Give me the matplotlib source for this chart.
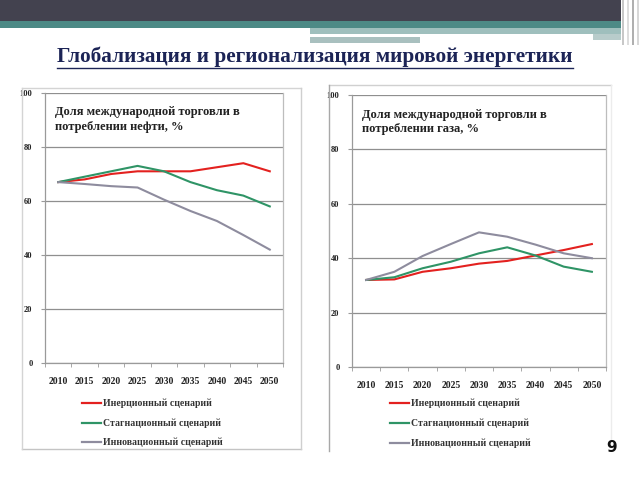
import numpy as np
import matplotlib
matplotlib.use('Agg')
import matplotlib.pyplot as plt
from matplotlib.patches import Rectangle
from matplotlib.lines import Line2D

# Data
years = ['2010', '2015', '2020', '2025', '2030', '2035', '2040', '2045', '2050']
oil_inertial = [67, 68, 70, 71, 71, 71, 72.5, 74, 71]
oil_stagnation = [67, 69, 71, 73, 71, 67, 64, 62, 58]
oil_innovation = [67, 66.3, 65.5, 65, 60.5, 56.3, 52.6, 47.4, 42]
gas_inertial = [32, 32.2, 35, 36.3, 38, 39, 41, 43, 45.2]
gas_stagnation = [32, 33, 36.3, 38.7, 41.8, 44, 41, 36.9, 35]
gas_innovation = [32, 35, 40.8, 45.2, 49.5, 47.9, 45, 41.8, 40]
legend_labels = ['Инерционный сценарий', 'Стагнационный сценарий', 'Инновационный сценарий']
colors = ['#e3211f', '#2f9466', '#8e8c9e']

W, H = 640, 480
fig = plt.figure(figsize=(6.4, 4.8), dpi=100)
serif = 'Liberation Serif'


def box(x0, y0, x1, y1):
    # pixel box (top-left origin) -> figure fractions
    return [x0 / W, 1 - y1 / H, (x1 - x0) / W, (y1 - y0) / H]


def rect(x0, y0, x1, y1, color):
    l, b, w, h = box(x0, y0, x1, y1)
    fig.add_artist(Rectangle((l, b), w, h, transform=fig.transFigure,
                             color=color, lw=0, zorder=0))


def hline(x0, x1, y, color, lw=1.0):
    fig.add_artist(Line2D([x0 / W, x1 / W], [1 - y / H, 1 - y / H],
                          transform=fig.transFigure, color=color, lw=lw))


def vline(x, y0, y1, color, lw=1.0):
    fig.add_artist(Line2D([x / W, x / W], [1 - y0 / H, 1 - y1 / H],
                          transform=fig.transFigure, color=color, lw=lw))


# Slide header
rect(0, 0, 621, 21, '#43424f')
rect(0, 21, 621, 28, '#4d8a86')
rect(310, 28, 621, 34, '#9fbfbd')
rect(310, 35, 593, 36.5, '#ffffff')
rect(310, 37, 420, 43, '#a9c0bf')
rect(593, 34, 621, 40, '#b8cccb')
for xs, c in [(622, '#c8c8c8'), (627, '#dddddd'), (632, '#b0b0b0'), (637, '#d8d8d8')]:
    rect(xs, 0, xs + 2, 45, c)

# Title
fig.text(315 / W, 1 - 57 / H, 'Глобализация и регионализация мировой энергетики',
         family=serif, weight='bold', size=15.3, color='#1c2456',
         ha='center', va='center')
hline(57, 573, 67.5, '#1c2456', lw=1.0)

# Chart frames
hline(22, 301, 88, '#d4d4d4')
hline(22, 301, 449, '#c4c4c4')
vline(22, 88, 449, '#d4d4d4')
vline(301, 88, 449, '#cfcfcf')
hline(329, 611, 85, '#d0d0d0')
vline(329, 85, 451, '#a8a8a8')
vline(611, 85, 440, '#ececec')


def draw_panel(rect_px, series, caption, legend_x, legend_ys):
    ax = fig.add_axes(box(*rect_px))
    for vals, c in zip(series, colors):
        ax.plot(years, vals, color=c, lw=1.5)
    ax.set_xlim(-0.5, len(years) - 0.5)
    ax.set_ylim(0, 100)
    ax.set_yticks([0, 20, 40, 60, 80, 100])
    ax.grid(axis='y', color='#8f8f8f', lw=0.9)
    ax.set_axisbelow(True)
    for s in ['left', 'bottom', 'right']:
        ax.spines[s].set_color('#9a9a9a')
        ax.spines[s].set_linewidth(0.9)
    ax.spines['right'].set_color('#bdbdbd')
    ax.spines['top'].set_visible(False)
    ax.set_xticks(np.arange(-0.5, len(years)), minor=True)
    ax.tick_params(axis='x', which='major', length=0, pad=10)
    ax.tick_params(axis='x', which='minor', length=3, color='#9a9a9a')
    ax.tick_params(axis='y', length=3, color='#9a9a9a', pad=6)
    for lab in ax.get_xticklabels():
        lab.set_fontfamily(serif)
        lab.set_fontweight('bold')
        lab.set_fontsize(7)
        lab.set_color('#222222')
    for lab in ax.get_yticklabels():
        lab.set_fontfamily(serif)
        lab.set_fontweight('bold')
        lab.set_fontsize(6)
        lab.set_color('#222222')
    ax.text(0.04, 0.95, caption, transform=ax.transAxes, family=serif,
            weight='bold', size=9, color='#222222', va='top', ha='left',
            linespacing=1.25)
    # legend below the axes
    for lab, c, y in zip(legend_labels, colors, legend_ys):
        fig.add_artist(Line2D([legend_x / W, (legend_x + 19) / W],
                              [1 - y / H, 1 - y / H], transform=fig.transFigure,
                              color=c, lw=1.6))
        fig.text((legend_x + 21) / W, 1 - y / H, lab, family=serif,
                 weight='bold', size=7, color='#333333', va='center', ha='left')
    return ax


draw_panel((45, 93, 283, 363), [oil_inertial, oil_stagnation, oil_innovation],
           'Доля международной торговли в\nпотреблении нефти, %', 82, [403, 423, 442])
draw_panel((352, 95, 606, 367), [gas_inertial, gas_stagnation, gas_innovation],
           'Доля международной торговли в\nпотреблении газа, %', 390, [403, 423, 443])

# Slide number
fig.text(612 / W, 1 - 448 / H, '9', family='DejaVu Sans', weight='bold',
         size=11, color='#111111', ha='center', va='center')

plt.savefig('out.png', dpi=100)
